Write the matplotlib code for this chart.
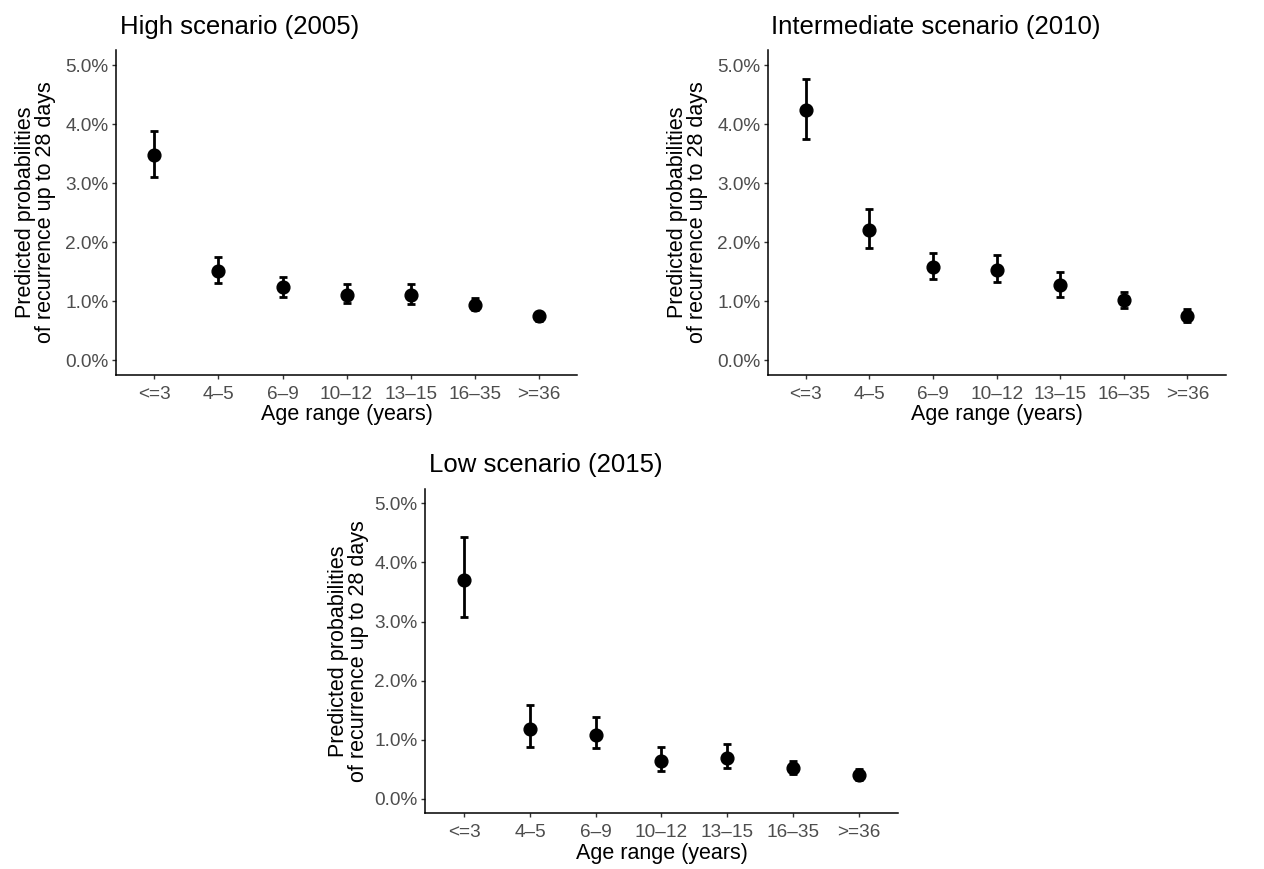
#!/usr/bin/env python3

import matplotlib
matplotlib.use("Agg")
import matplotlib.pyplot as plt
from matplotlib.ticker import FuncFormatter

plt.rcParams["font.family"] = ["Liberation Sans", "DejaVu Sans"]

age_groups = ["<=3", "4–5", "6–9", "10–12", "13–15", "16–35", ">=36"]

# predicted probabilities (%) with lower / upper confidence bounds
high_est = [3.47, 1.51, 1.23, 1.11, 1.11, 0.93, 0.74]
high_low = [3.11, 1.31, 1.07, 0.96, 0.95, 0.84, 0.67]
high_up = [3.88, 1.74, 1.41, 1.29, 1.29, 1.05, 0.82]

inter_est = [4.23, 2.20, 1.57, 1.53, 1.27, 1.02, 0.75]
inter_low = [3.75, 1.90, 1.37, 1.32, 1.07, 0.89, 0.65]
inter_up = [4.77, 2.56, 1.81, 1.78, 1.50, 1.15, 0.86]

low_est = [3.70, 1.18, 1.08, 0.64, 0.69, 0.51, 0.40]
low_low = [3.08, 0.88, 0.85, 0.46, 0.52, 0.42, 0.32]
low_up = [4.44, 1.58, 1.38, 0.88, 0.93, 0.63, 0.50]

# title, estimates, lower, upper, axes rect, y-label pad
panels = [
    ("High scenario (2005)", high_est, high_low, high_up, [0.0918, 0.5687, 0.3647, 0.3734], 6.5),
    ("Intermediate scenario (2010)", inter_est, inter_low, inter_up, [0.6074, 0.5687, 0.3622, 0.3734], 6.5),
    ("Low scenario (2015)", low_est, low_low, low_up, [0.3362, 0.0641, 0.3742, 0.3735], 3.5),
]


def draw_panel(ax, title, est, low, up, ypad):
    x = list(range(1, len(age_groups) + 1))
    err = [[e - l for e, l in zip(est, low)], [u - e for e, u in zip(est, up)]]
    ax.errorbar(x, est, yerr=err, fmt="o", color="black", markersize=9.2,
                elinewidth=2.0, capsize=2.6, capthick=2.0)
    ax.set_xlim(0.4, 7.6)
    ax.set_ylim(-0.25, 5.25)
    ax.set_xticks(x)
    ax.set_xticklabels(age_groups)
    ax.set_yticks([0, 1, 2, 3, 4, 5])
    ax.yaxis.set_major_formatter(FuncFormatter(lambda v, p: f"{v:.1f}%"))
    ax.tick_params(labelsize=13.7, labelcolor="#4D4D4D", color="#333333",
                   length=2.9, width=1.0)
    ax.tick_params(axis="x", pad=5)
    ax.tick_params(axis="y", pad=2.5)
    for side in ["top", "right"]:
        ax.spines[side].set_visible(False)
    for side in ["left", "bottom"]:
        ax.spines[side].set_linewidth(1.1)
    ax.set_xlabel("Age range (years)", fontsize=15.5, labelpad=1)
    ax.set_ylabel("Predicted probabilities\nof recurrence up to 28 days",
                  fontsize=15.5, labelpad=ypad, linespacing=0.95)
    ax.set_title(title, loc="left", fontsize=18.5, pad=12, x=0.008)


fig = plt.figure(figsize=(12.64, 8.69), dpi=100)
for title, est, low, up, rect, ypad in panels:
    ax = fig.add_axes(rect)
    draw_panel(ax, title, est, low, up, ypad)

fig.savefig("out.png", dpi=100)
